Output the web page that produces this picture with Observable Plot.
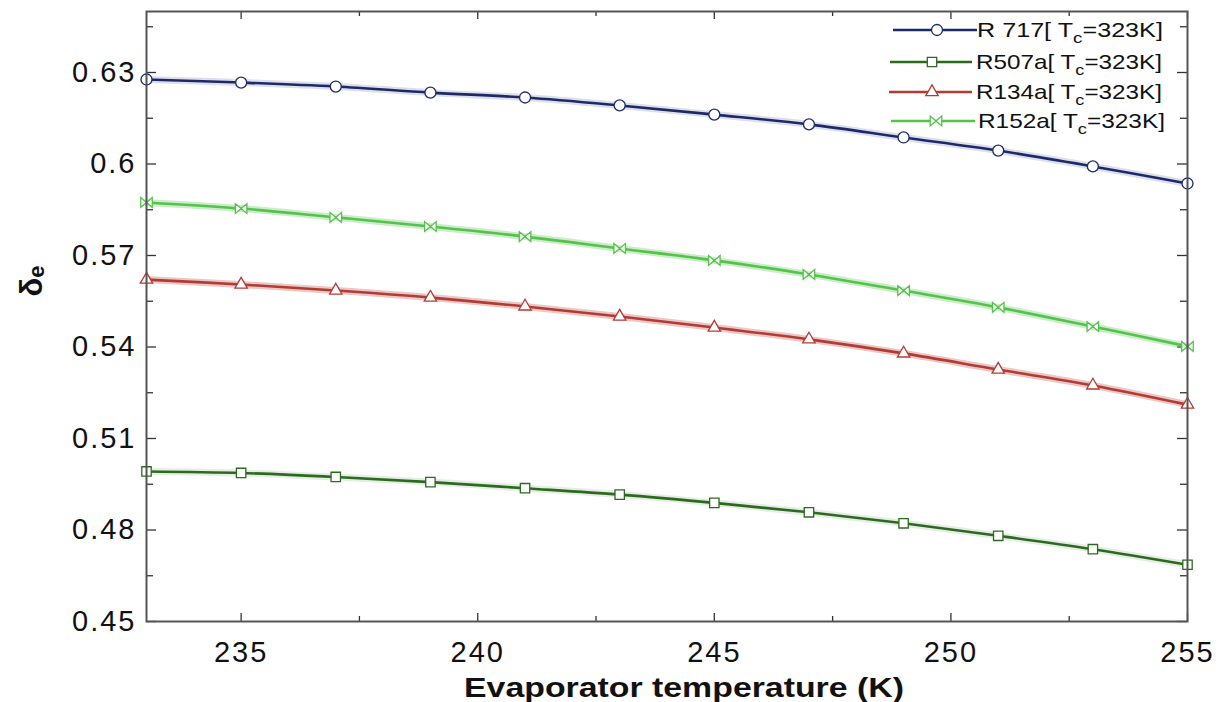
<!DOCTYPE html>
<html><head><meta charset="utf-8">
<script src="https://cdn.jsdelivr.net/npm/d3@7"></script>
<script src="https://cdn.jsdelivr.net/npm/@observablehq/plot@0.6"></script>
<style>html,body{margin:0;padding:0;background:#fff;} #chart{width:1230px;height:702px;}</style>
</head><body><div id="chart"></div>
<script>
const temps = [233, 235, 237, 239, 241, 243, 245, 247, 249, 251, 253, 255];
const r717  = [0.6277, 0.6267, 0.6254, 0.6234, 0.6218, 0.6192, 0.6162, 0.6130, 0.6087, 0.6044, 0.5992, 0.5936];
const r507a = [0.4992, 0.4987, 0.4974, 0.4957, 0.4937, 0.4916, 0.4889, 0.4858, 0.4822, 0.4781, 0.4737, 0.4686];
const r134a = [0.5621, 0.5605, 0.5585, 0.5562, 0.5533, 0.5500, 0.5464, 0.5425, 0.5379, 0.5326, 0.5274, 0.5211];
const r152a = [0.5874, 0.5854, 0.5825, 0.5795, 0.5762, 0.5723, 0.5684, 0.5638, 0.5585, 0.5530, 0.5467, 0.5402];
const seriesNames = ["R 717", "R507a", "R134a", "R152a"];
const seriesValues = [r717, r507a, r134a, r152a];
const seriesColors = ["#1c2a6c", "#2c6a1f", "#b43b33", "#55c24c"];
const legendSuffix = "=323K]";
const xTicks = [235, 240, 245, 250, 255];
const xMinorTicks = [237.5, 242.5, 247.5, 252.5];
const yTicks = [0.45, 0.48, 0.51, 0.54, 0.57, 0.60, 0.63];
const yTickLabels = ["0.45", "0.48", "0.51", "0.54", "0.57", "0.6", "0.63"];
const yMinorTicks = [0.465, 0.495, 0.525, 0.555, 0.585, 0.615, 0.645];
const xTitle = "Evaporator temperature (K)";

const rows = seriesNames.flatMap((name, s) => temps.map((t, i) => ({name, t, v: seriesValues[s][i]})));

const bowtie = {
  draw(ctx, size) {
    const s = Math.sqrt(size) / 2, h = s * 0.85;
    ctx.moveTo(-s, -h); ctx.lineTo(0, 0); ctx.lineTo(-s, h); ctx.closePath();
    ctx.moveTo(s, -h); ctx.lineTo(0, 0); ctx.lineTo(s, h); ctx.closePath();
  }
};
const symbols = [d3.symbolCircle, d3.symbolSquare, d3.symbolTriangle, bowtie];
const symbolR = [5.5, 5.3, 4.6, 6.5];
const haloOpacity = [0.15, 0.12, 0.28, 0.3];

const W = 1230, H = 702, mL = 146, mR = 43, mT = 11, mB = 81;
const pW = W - mL - mR, pH = H - mT - mB;

const marks = [
  Plot.tickX(xTicks, {x: d => d, insetTop: pH - 8, stroke: "#333", strokeWidth: 1.3}),
  Plot.tickX(xTicks, {x: d => d, insetBottom: pH - 8, stroke: "#333", strokeWidth: 1.3}),
  Plot.tickX(xMinorTicks, {x: d => d, insetTop: pH - 5, stroke: "#333", strokeWidth: 1.3}),
  Plot.tickX(xMinorTicks, {x: d => d, insetBottom: pH - 5, stroke: "#333", strokeWidth: 1.3}),
  Plot.tickY(yTicks, {y: d => d, insetRight: pW - 10, stroke: "#333", strokeWidth: 1.3}),
  Plot.tickY(yTicks, {y: d => d, insetLeft: pW - 10, stroke: "#333", strokeWidth: 1.3}),
  Plot.tickY(yMinorTicks, {y: d => d, insetRight: pW - 7, stroke: "#333", strokeWidth: 1.3}),
  Plot.tickY(yMinorTicks, {y: d => d, insetLeft: pW - 7, stroke: "#333", strokeWidth: 1.3}),
];
seriesNames.forEach((name, s) => {
  const data = rows.filter(d => d.name === name);
  marks.push(Plot.line(data, {x: "t", y: "v", stroke: seriesColors[s], strokeWidth: 7, strokeOpacity: haloOpacity[s], curve: "catmull-rom"}));
  marks.push(Plot.line(data, {x: "t", y: "v", stroke: seriesColors[s], strokeWidth: 2.6, curve: "catmull-rom"}));
});
seriesNames.forEach((name, s) => {
  const data = rows.filter(d => d.name === name);
  marks.push(Plot.dot(data, {x: "t", y: "v", symbol: symbols[s], r: symbolR[s], fill: "white", stroke: seriesColors[s], strokeWidth: 1.3}));
});
marks.push(Plot.axisX(xTicks, {tickSize: 0, tickPadding: 20, fontSize: 29, label: null}));
marks.push(Plot.axisY(yTicks, {tickSize: 0, tickPadding: 10, fontSize: 29, label: null,
  tickFormat: d => yTickLabels[yTicks.indexOf(d)]}));
marks.push(Plot.frame({stroke: "#555", strokeWidth: 2}));

const plot = Plot.plot({
  width: W, height: H,
  marginLeft: mL, marginRight: mR, marginTop: mT, marginBottom: mB,
  x: {domain: [233, 255], label: null},
  y: {domain: [0.45, 0.65], label: null},
  style: {fontFamily: "'Liberation Sans', Arial, sans-serif", fontSize: "29px", color: "#111", background: "white"},
  marks
});
document.getElementById("chart").appendChild(plot);

const svg = d3.select(plot);
svg.selectAll("g[aria-label='x-axis tick label'] text, g[aria-label='y-axis tick label'] text")
  .attr("letter-spacing", "2px").attr("fill", "#111");

// stretched text helper
function stretched(parent, x, y, targetW, anchor) {
  const g = parent.append("g");
  const t = g.append("text").attr("font-family", "'Liberation Sans', Arial, sans-serif")
    .attr("text-anchor", "start").attr("fill", "#111");
  return {g, t, fit() {
    const bb = t.node().getBBox();
    const sx = targetW / bb.width;
    t.attr("x", anchor === "middle" ? -bb.width / 2 : 0);
    g.attr("transform", `translate(${x},${y}) scale(${sx},1)`);
  }};
}

// x title
const xt = stretched(svg, 684, 697, 440, "middle");
xt.t.attr("font-size", 27).attr("font-weight", "bold").text(xTitle);
xt.fit();

// y title
const yt = svg.append("text").attr("transform", "translate(42,281) rotate(-90)")
  .attr("text-anchor", "middle").attr("font-family", "'Liberation Sans', Arial, sans-serif")
  .attr("font-weight", "bold").attr("fill", "#111");
yt.append("tspan").attr("font-size", 31).text("δ");
yt.append("tspan").attr("font-size", 22).attr("dy", 2).text("e");

// legend
const legendY = [30, 62, 92, 121];
const lineX1 = [893, 890, 889, 891];
const lineX2 = [977, 972, 972, 975];
const markX = [937, 932, 932, 936];
const textX = [977, 976, 976, 978];
const textW = [186, 186, 186, 187];
const lg = svg.append("g");
seriesNames.forEach((name, s) => {
  const y = legendY[s];
  lg.append("line").attr("x1", lineX1[s]).attr("x2", lineX2[s]).attr("y1", y).attr("y2", y)
    .attr("stroke", seriesColors[s]).attr("stroke-width", 2.6);
  lg.append("path").attr("d", d3.symbol(symbols[s], Math.PI * symbolR[s] * symbolR[s])())
    .attr("transform", `translate(${markX[s]},${y})`).attr("fill", "white")
    .attr("stroke", seriesColors[s]).attr("stroke-width", 1.3);
  const lt = stretched(lg, textX[s], y + 7, textW[s], "start");
  lt.t.attr("font-size", 20);
  lt.t.append("tspan").text(name + "[ T");
  lt.t.append("tspan").attr("font-size", 15).attr("dy", 6).text("c");
  lt.t.append("tspan").attr("dy", -6).text(legendSuffix);
  lt.fit();
});
</script>
</body></html>
